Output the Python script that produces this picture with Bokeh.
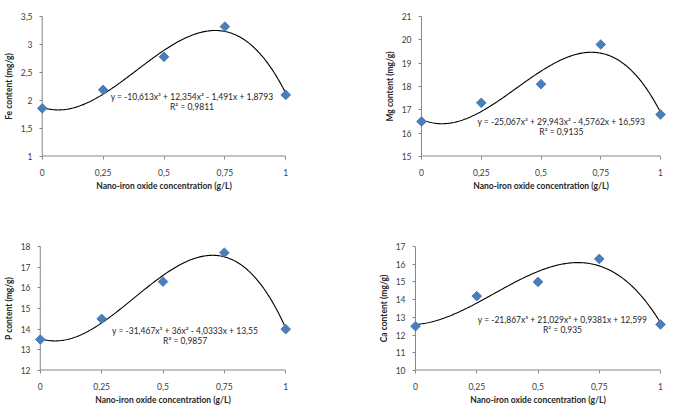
import numpy as np
from bokeh.plotting import figure
from bokeh.layouts import column, row
from bokeh.models import Range1d, FixedTicker
from bokeh.core.properties import value
from bokeh.embed import file_html
from bokeh.resources import INLINE

conc = [0, 0.25, 0.5, 0.75, 1]
x_tick_labels = ["0", "0,25", "0,5", "0,75", "1"]

fe = [1.86, 2.19, 2.78, 3.32, 2.10]
mg = [16.5, 17.3, 18.1, 19.8, 16.8]
p_vals = [13.5, 14.5, 16.3, 17.7, 14.0]
ca = [12.5, 14.2, 15.0, 16.3, 12.6]

fe_coef = [-10.613, 12.354, -1.491, 1.8793]
mg_coef = [-25.067, 29.943, -4.5762, 16.593]
p_coef = [-31.467, 36.0, -4.0333, 13.55]
ca_coef = [-21.867, 21.029, 0.9381, 12.599]

fe_eq = ["y = -10,613x³ + 12,354x² - 1,491x + 1,8793", "R² = 0,9811"]
mg_eq = ["y = -25,067x³ + 29,943x² - 4,5762x + 16,593", "R² = 0,9135"]
p_eq = ["y = -31,467x³ + 36x² - 4,0333x + 13,55", "R² = 0,9857"]
ca_eq = ["y = -21,867x³ + 21,029x² + 0,9381x + 12,599", "R² = 0,935"]

fe_yticks = [1, 1.5, 2, 2.5, 3, 3.5]
fe_ylabels = ["1", "1,5", "2", "2,5", "3", "3,5"]
mg_yticks = [15, 16, 17, 18, 19, 20, 21]
p_yticks = [12, 13, 14, 15, 16, 17, 18]
ca_yticks = [10, 11, 12, 13, 14, 15, 16, 17]

FONT = "Lato"
XTITLE = "Nano-iron oxide concentration (g/L)"
AXIS_COLOR = "#868686"
PAD_PX = 6  # room so the edge markers are not clipped


def panel(yvals, coef, eq, ylabel, yticks, ylabels, eq_pos, size, borders):
    w, h = size
    bl, br, bt, bb = borders
    fw = w - bl - br
    pad = PAD_PX / (fw - 2 * PAD_PX)
    p = figure(width=w, height=h, output_backend="svg", toolbar_location=None,
               x_range=Range1d(conc[0] - pad, conc[-1] + pad),
               y_range=Range1d(yticks[0], yticks[-1]),
               min_border_left=bl, min_border_right=br, min_border_top=bt, min_border_bottom=bb)
    p.outline_line_color = None
    p.grid.grid_line_color = None
    for ax in (p.xaxis, p.yaxis):
        ax.axis_line_color = None
        ax.major_tick_line_color = AXIS_COLOR
        ax.minor_tick_line_color = None
        ax.major_label_text_font = FONT
        ax.major_label_text_font_size = "8.5px"
        ax.major_label_text_color = "#404040"
        ax.axis_label_text_font = FONT
        ax.axis_label_text_font_size = "8.5px"
        ax.axis_label_text_font_style = "bold"
        ax.axis_label_text_color = "#262626"
    p.xaxis.major_tick_out = 3
    p.xaxis.major_tick_in = 0
    p.xaxis.major_label_standoff = 9
    p.xaxis.axis_label_standoff = 2
    # y ticks start at the axis line drawn at x = conc[0]
    p.yaxis.major_tick_in = PAD_PX
    p.yaxis.major_tick_out = -(PAD_PX - 3)
    p.yaxis.major_label_standoff = 4
    p.yaxis.axis_label_standoff = 4
    # axis lines from the first to the last tick
    p.segment(x0=[conc[0]], y0=[yticks[0]], x1=[conc[-1]], y1=[yticks[0]],
              line_color=AXIS_COLOR, line_width=2)
    p.segment(x0=[conc[0]], y0=[yticks[0]], x1=[conc[0]], y1=[yticks[-1]],
              line_color=AXIS_COLOR, line_width=1)
    p.xaxis.ticker = FixedTicker(ticks=conc)
    p.xaxis.major_label_overrides = {t: l for t, l in zip(conc, x_tick_labels)}
    p.yaxis.ticker = FixedTicker(ticks=yticks)
    p.yaxis.major_label_overrides = {t: l for t, l in zip(yticks, ylabels)}
    p.xaxis.axis_label = XTITLE
    p.yaxis.axis_label = ylabel

    xs = np.linspace(conc[0], conc[-1], 201)
    p.line(xs, np.polyval(coef, xs), line_color="black", line_width=1.1)
    p.scatter(conc, yvals, marker="square", size=6.8, angle=np.pi / 4,
              fill_color="#4A7EBB", line_color="#4A7EBB")
    ex, ey1, ey2 = eq_pos
    p.text([ex, ex], [ey1, ey2], text=eq, text_font=value(FONT), text_font_size="8.5px",
           text_align="center", text_baseline="middle", text_color="#262626")
    return p


p1 = panel(fe, fe_coef, fe_eq, "Fe content (mg/g)", fe_yticks, fe_ylabels,
           (0.615, 2.07, 1.88), (333, 207), (24, 42, 16, 49))
p2 = panel(mg, mg_coef, mg_eq, "Mg content (mg/g)", mg_yticks, [str(t) for t in mg_yticks],
           (0.585, 16.49, 16.03), (333, 207), (82, 0, 11, 51))
p3 = panel(p_vals, p_coef, p_eq, "P content (mg/g)", p_yticks, [str(t) for t in p_yticks],
           (0.59, 13.89, 13.43), (333, 200), (24, 42, 37, 33))
p4 = panel(ca, ca_coef, ca_eq, "Ca content (mg/g)", ca_yticks, [str(t) for t in ca_yticks],
           (0.6, 12.84, 12.26), (333, 200), (76, 0, 39, 30))

layout = column(row(p1, p2), row(p3, p4))
open("out.html", "w").write(file_html(layout, INLINE))
